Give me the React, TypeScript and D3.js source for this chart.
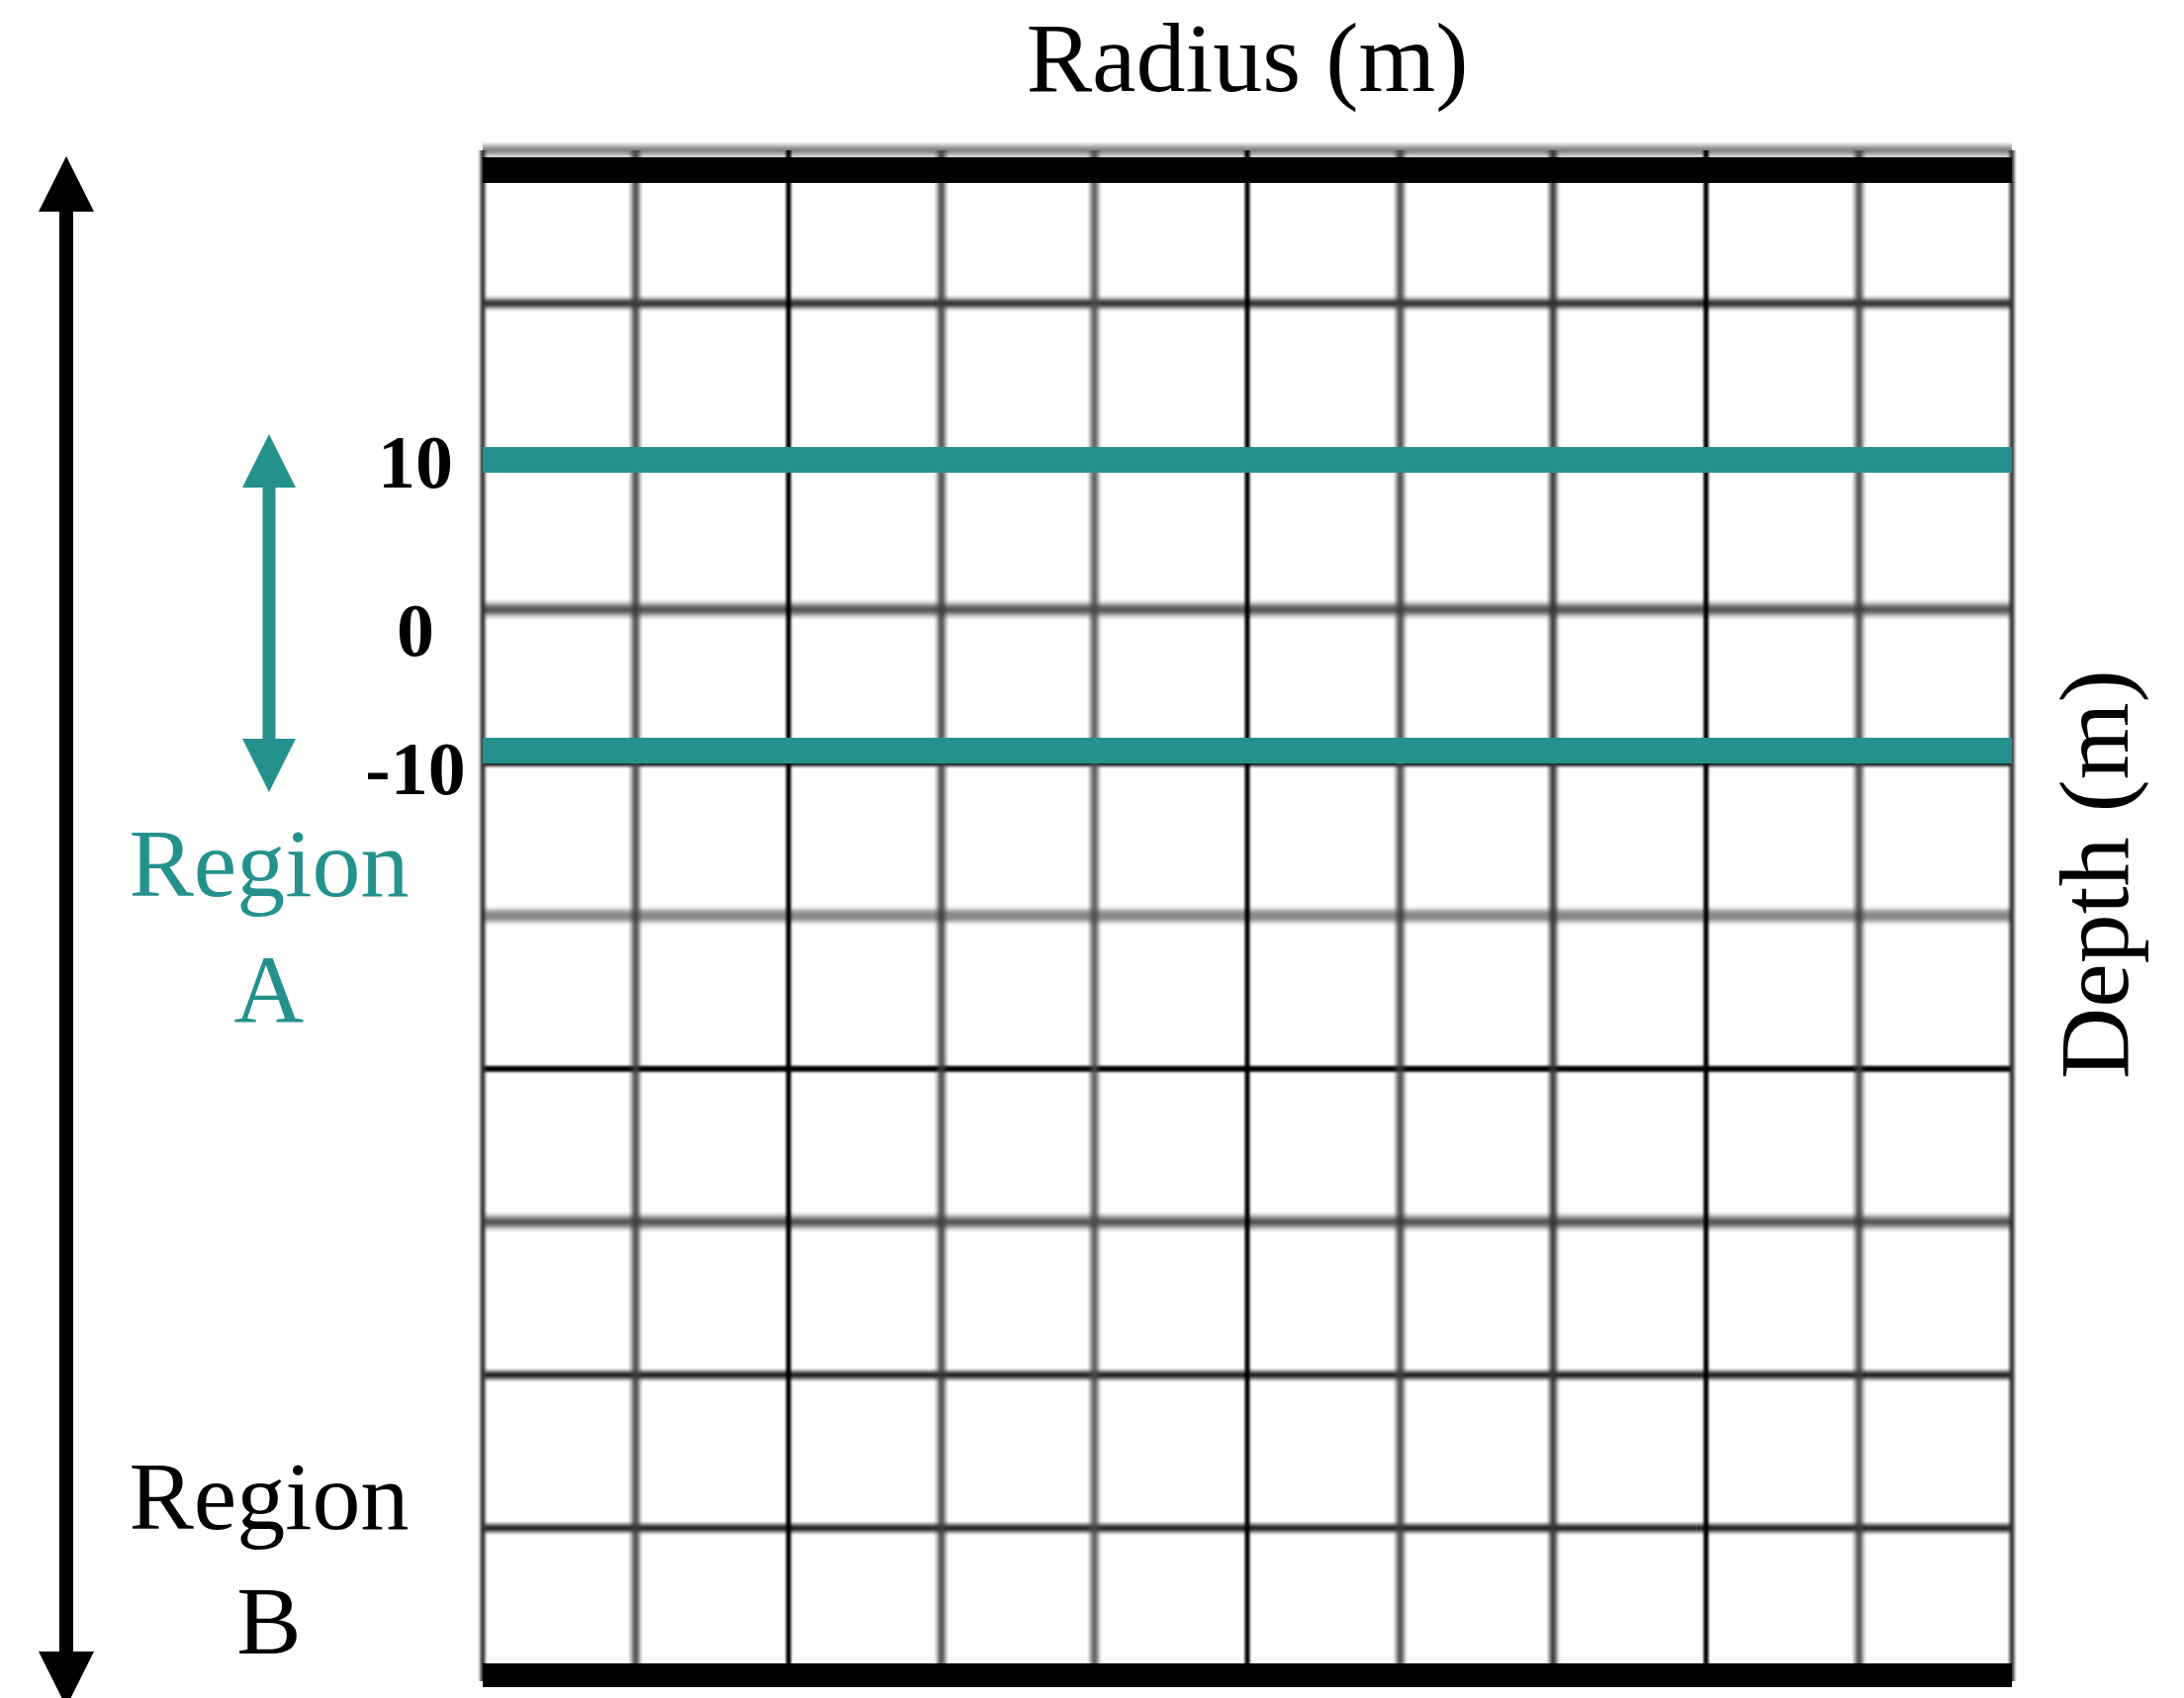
import React from "react";
import * as d3 from "d3";

// ---- data ----
const gridColumns = [0, 1, 2, 3, 4, 5, 6, 7, 8, 9, 10];
const gridRows = [0, 1, 2, 3, 4, 5, 6, 7, 8, 9, 10];
const depthTickValues = [10, 0, -10];
const depthTickLabels = ["10", "0", "-10"];
const regionBoundaries = [10, -10];
const xTitle = "Radius (m)";
const yTitle = "Depth (m)";
const regionALines = ["Region", "A"];
const regionBLines = ["Region", "B"];

// ---- styles / layout ----
const W = 2208;
const H = 1717;
const TEAL = "#24918d";
const FONT = "'Liberation Serif', 'Times New Roman', serif";

type LineStyle = { color: string; width: number; blur: number };
const colStyles: LineStyle[] = [
  { color: "#333", width: 5, blur: 1.6 },
  { color: "#3a3a3a", width: 7, blur: 2.4 },
  { color: "#000", width: 5, blur: 0.9 },
  { color: "#3a3a3a", width: 7, blur: 2.4 },
  { color: "#4a4a4a", width: 7, blur: 2.4 },
  { color: "#000", width: 5, blur: 0.9 },
  { color: "#3a3a3a", width: 7, blur: 2.4 },
  { color: "#333", width: 7, blur: 2.2 },
  { color: "#000", width: 5, blur: 0.9 },
  { color: "#3a3a3a", width: 7, blur: 2.4 },
  { color: "#333", width: 5, blur: 1.6 },
];
const rowStyles: LineStyle[] = [
  { color: "#666", width: 8, blur: 3 },
  { color: "#222", width: 8, blur: 2.4 },
  { color: "#333", width: 7, blur: 2 },
  { color: "#444", width: 10, blur: 3 },
  { color: "#111", width: 7, blur: 1.5 },
  { color: "#888", width: 12, blur: 2.5 },
  { color: "#000", width: 6, blur: 1 },
  { color: "#444", width: 10, blur: 3 },
  { color: "#111", width: 7, blur: 2 },
  { color: "#111", width: 7, blur: 2 },
  { color: "#000", width: 5, blur: 1 },
];
const labelBaselineOffsets = [28, 51, 44];

function arrowPath(x: number, y1: number, y2: number, shaft: number, headW: number, headL: number) {
  const p = d3.path();
  const hs = shaft / 2;
  const hw = headW / 2;
  p.moveTo(x, y1);
  p.lineTo(x + hw, y1 + headL);
  p.lineTo(x + hs, y1 + headL);
  p.lineTo(x + hs, y2 - headL);
  p.lineTo(x + hw, y2 - headL);
  p.lineTo(x, y2);
  p.lineTo(x - hw, y2 - headL);
  p.lineTo(x - hs, y2 - headL);
  p.lineTo(x - hs, y1 + headL);
  p.lineTo(x - hw, y1 + headL);
  p.closePath();
  return p.toString();
}

export default function App() {
  const xScale = d3.scaleLinear().domain([0, 10]).range([488, 2034]);
  const rowScale = d3.scaleLinear().domain([0, 10]).range([152, 1700]);
  const depthScale = d3.scaleLinear().domain([10, -10]).range([465, 759]);

  const x0 = xScale(0);
  const x1 = xScale(10);
  const yTop = rowScale(0);
  const yBot = rowScale(10);
  const cx = (x0 + x1) / 2;

  return (
    <div style={{ position: "absolute", left: 0, top: 0 }}>
      <svg width={W} height={H} style={{ display: "block", background: "#fff" }}>
        <defs>
          {colStyles.map((s, i) => (
            <filter key={"fc" + i} id={"fc" + i} x="-50%" y="-5%" width="200%" height="110%">
              <feGaussianBlur stdDeviation={`${s.blur} 0.5`} />
            </filter>
          ))}
          {rowStyles.map((s, i) => (
            <filter key={"fr" + i} id={"fr" + i} x="-5%" y="-50%" width="110%" height="200%">
              <feGaussianBlur stdDeviation={`0.5 ${s.blur}`} />
            </filter>
          ))}
        </defs>
        <rect x={0} y={0} width={W} height={H} fill="#fff" />

        {/* grid rows */}
        {gridRows.map((r, i) => (
          <rect
            key={"r" + r}
            x={x0}
            y={rowScale(r) - rowStyles[i].width / 2}
            width={x1 - x0}
            height={rowStyles[i].width}
            fill={rowStyles[i].color}
            filter={`url(#fr${i})`}
          />
        ))}
        {/* grid columns */}
        {gridColumns.map((c, i) => (
          <rect
            key={"c" + c}
            x={xScale(c) - colStyles[i].width / 2}
            y={yTop}
            width={colStyles[i].width}
            height={yBot - yTop}
            fill={colStyles[i].color}
            filter={`url(#fc${i})`}
          />
        ))}

        {/* thick top & bottom boundaries */}
        <rect x={x0} y={yTop + 7} width={x1 - x0} height={26} fill="#000" />
        <rect x={x0} y={yBot - 18} width={x1 - x0} height={24} fill="#000" />

        {/* region A boundaries */}
        {regionBoundaries.map((d) => (
          <rect key={"b" + d} x={x0} y={depthScale(d) - 13} width={x1 - x0} height={26} fill={TEAL} />
        ))}

        {/* depth tick labels */}
        {depthTickValues.map((v, i) => (
          <text
            key={"t" + v}
            x={420}
            y={depthScale(v) + labelBaselineOffsets[i]}
            textAnchor="middle"
            fontFamily={FONT}
            fontWeight="bold"
            fontSize={76}
            fill="#000"
          >
            {depthTickLabels[i]}
          </text>
        ))}

        {/* arrows */}
        <path d={arrowPath(67, 158, 1726, 14, 56, 56)} fill="#000" />
        <path d={arrowPath(272, 439, 801, 13, 54, 54)} fill={TEAL} />

        {/* region labels */}
        <text textAnchor="middle" fontFamily={FONT} fontSize={98} fill={TEAL}>
          <tspan x={272} y={906}>{regionALines[0]}</tspan>
          <tspan x={272} y={1033}>{regionALines[1]}</tspan>
        </text>
        <text textAnchor="middle" fontFamily={FONT} fontSize={98} fill="#000">
          <tspan x={272} y={1546}>{regionBLines[0]}</tspan>
          <tspan x={272} y={1672}>{regionBLines[1]}</tspan>
        </text>

        {/* titles */}
        <text x={cx} y={92} textAnchor="middle" fontFamily={FONT} fontSize={100} fill="#000">
          {xTitle}
        </text>
        <text
          transform={`translate(2151, 884) rotate(-90)`}
          textAnchor="middle"
          fontFamily={FONT}
          fontSize={100}
          fill="#000"
        >
          {yTitle}
        </text>
      </svg>
    </div>
  );
}
